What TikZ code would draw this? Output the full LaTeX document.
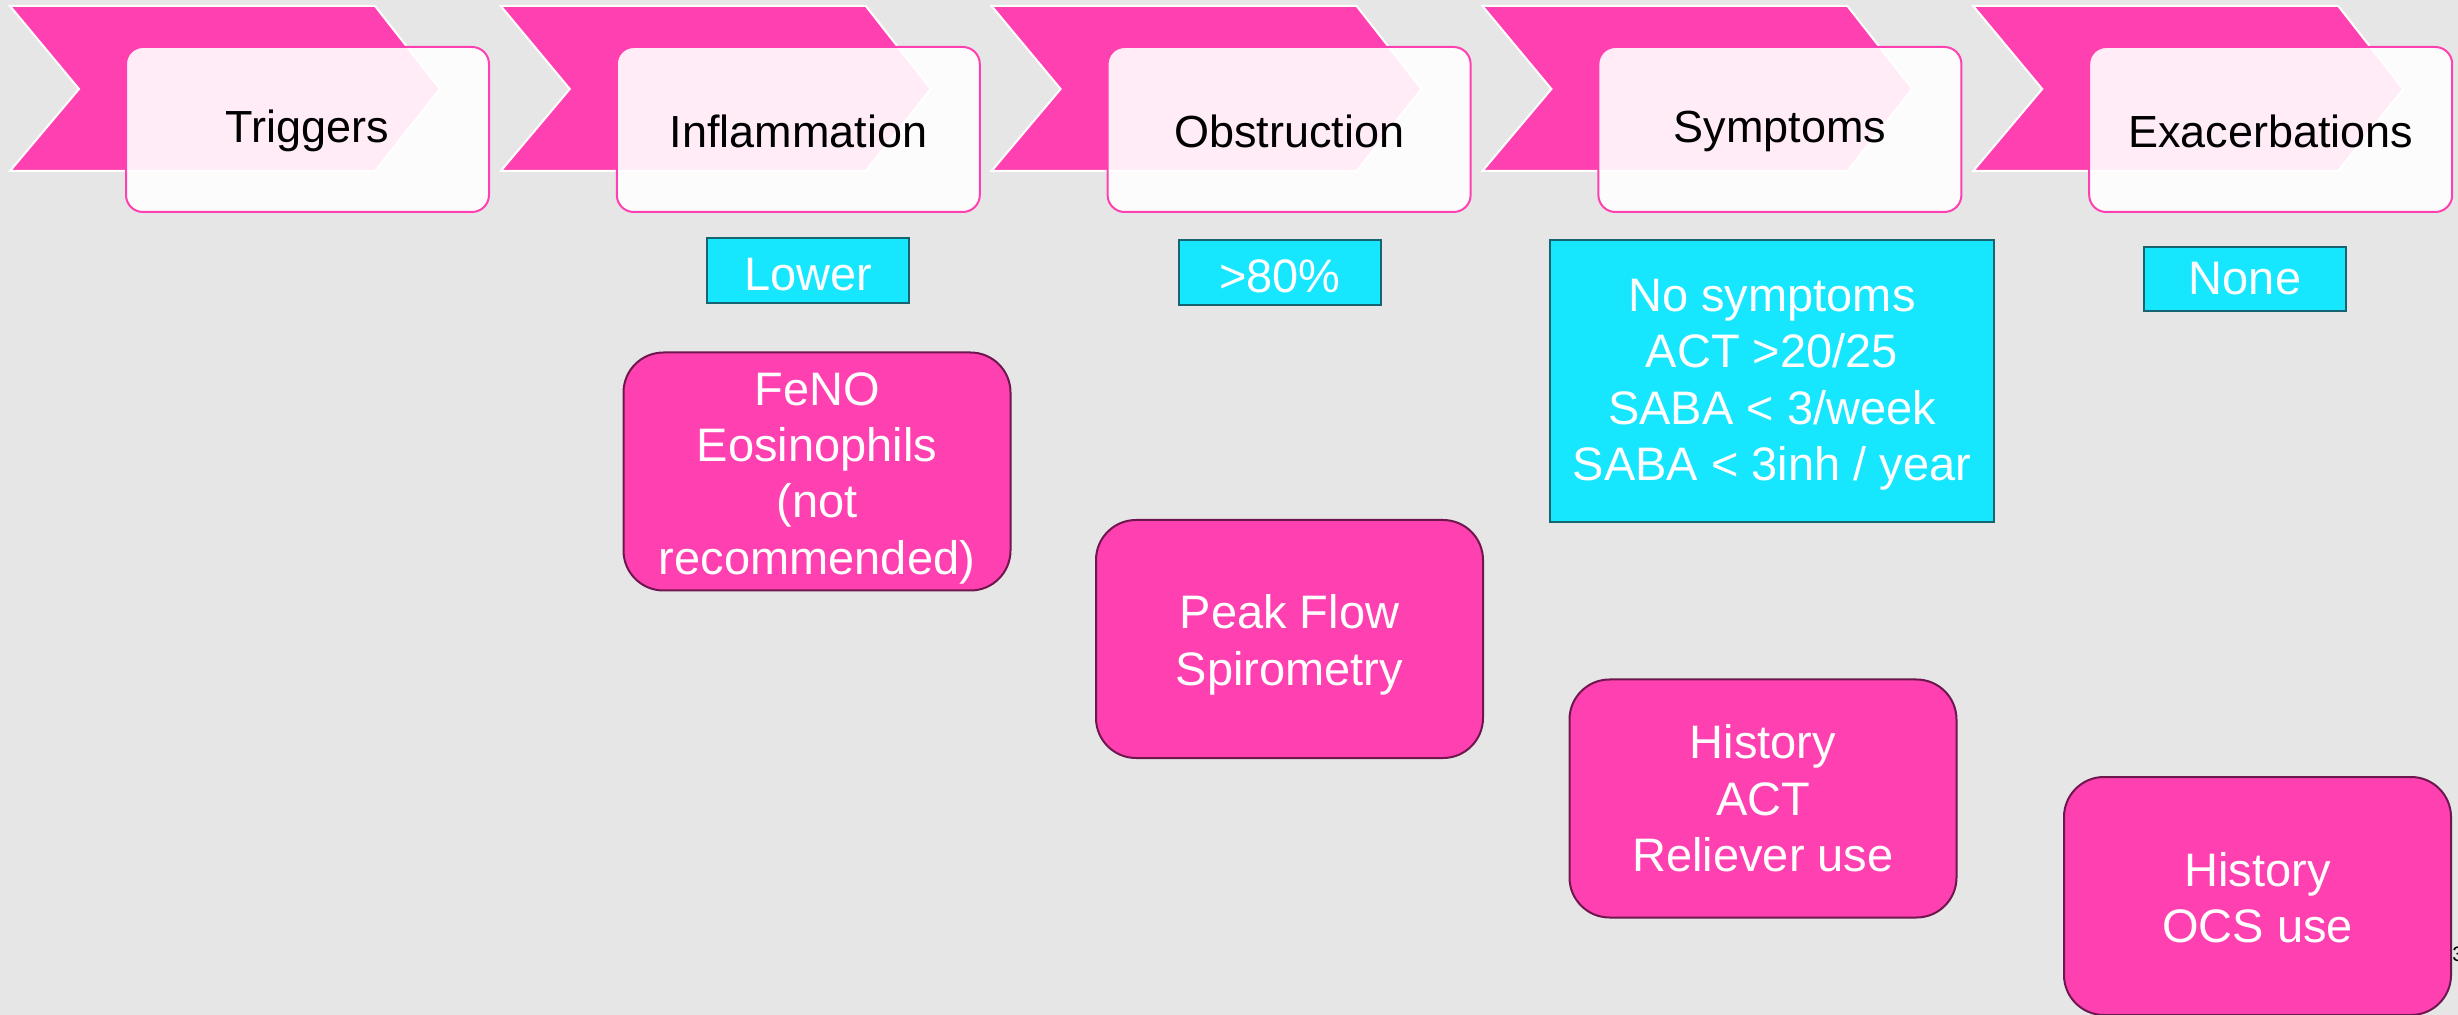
\documentclass[tikz,border=0pt]{standalone}
\usepackage{fontspec}
\setmainfont{Liberation Sans}
\definecolor{bgc}{RGB}{230,230,230}
\definecolor{pinkc}{RGB}{255,64,176}
\definecolor{cyanc}{RGB}{23,230,255}
\definecolor{tealc}{RGB}{22,100,112}
\definecolor{plumc}{RGB}{110,22,78}
\newcommand{\toppad}[1]{\rule{0pt}{#1}}
\begin{document}
\begin{tikzpicture}[x=0.5pt,y=-0.5pt,
  chev/.style={fill=pinkc, draw=white, line width=1pt, line join=miter},
  stagebox/.style={rectangle, rounded corners=8.5pt, fill=white, fill opacity=0.9, text opacity=1,
    draw=pinkc, line width=1pt, minimum width=181.5pt, minimum height=82.5pt, inner sep=0pt,
    font=\fontsize{22.5}{27}\selectfont, text=black},
  targetbox/.style={rectangle, fill=cyanc, draw=tealc, line width=1pt, inner sep=0pt,
    text=white, font=\fontsize{23.5}{28.2}\selectfont, align=center},
  testbox/.style={rectangle, rounded corners=20pt, fill=pinkc, draw=plumc, line width=1pt, inner sep=0pt,
    text=white, font=\fontsize{23.5}{28.2}\selectfont, align=center, minimum width=193.5pt, minimum height=119pt}]
\useasboundingbox (0,0) rectangle (2458,1015);
\fill[bgc] (0,0) rectangle (2458,1015);
% stages
\foreach \i/\t in {0/Triggers,1/Inflammation,2/Obstruction,3/Symptoms,4/Exacerbations}{
  \pgfmathsetmacro\xo{10+490.8*\i}
  \draw[chev] (\xo,6) -- ({\xo+365},6) -- ({\xo+430},89) -- ({\xo+365},171) -- (\xo,171) -- ({\xo+69},89) -- cycle;
  \node[stagebox] (s\i) at ({307.5+490.8*\i},129.5) {\toppad{18pt}\t};
}
% small clipped mark at right edge
\node[anchor=west, inner sep=0pt, font=\fontsize{10.5}{12}\selectfont, text=black] (mark) at (2452,954) {3};
% targets
\node[targetbox, minimum width=101pt, minimum height=32.5pt] (lower) at (808,270.5) {\toppad{20pt}Lower};
\node[targetbox, minimum width=101pt, minimum height=32.5pt] (pct) at (1280,272.5) {\toppad{20pt}>80\%};
\node[targetbox, minimum width=222pt, minimum height=141pt] (sym) at (1772,381)
  {\toppad{20pt}No symptoms\\ACT >20/25\\SABA < 3/week\\SABA < 3inh / year};
\node[targetbox, minimum width=101pt, minimum height=32pt] (none) at (2245,279) {None};
% tests
\node[testbox] (feno) at (817,471.5) {\toppad{23pt}FeNO\\Eosinophils\\(not\\recommended)};
\node[testbox] (peak) at (1289.5,639) {\toppad{23pt}Peak Flow\\Spirometry};
\node[testbox] (hist) at (1763,798.5) {History\\ACT\\Reliever use};
\node[testbox] (ocs) at (2257.5,896) {\toppad{19pt}History\\OCS use};
\end{tikzpicture}
\end{document}
